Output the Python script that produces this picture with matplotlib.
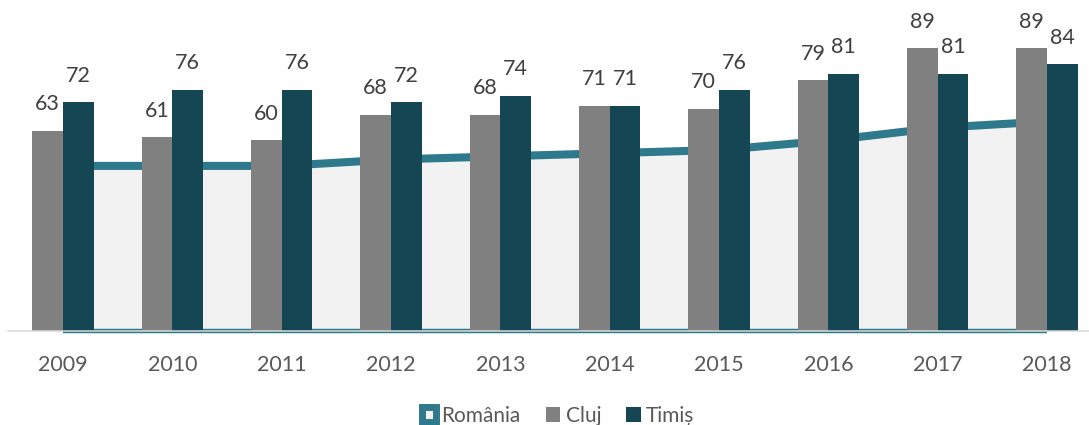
import numpy as np
import matplotlib
matplotlib.use("Agg")
import matplotlib.pyplot as plt
from matplotlib.patches import Patch

# date
years = ["2009", "2010", "2011", "2012", "2013", "2014", "2015", "2016", "2017", "2018"]
cluj = [63, 61, 60, 68, 68, 71, 70, 79, 89, 89]
timis = [72, 76, 76, 72, 74, 71, 76, 81, 81, 84]
romania = [52, 52, 52, 54, 55, 56, 57, 60, 64, 66]

c_ro = "#2E7A8C"
c_fill = "#F2F2F2"
c_cluj = "#808080"
c_timis = "#144753"

plt.rcParams["font.family"] = ["Lato", "DejaVu Sans"]

fig = plt.figure(figsize=(10.89, 4.25), dpi=100)
ax = fig.add_axes([8.3 / 1089, 94 / 425, 1093.4 / 1089, 331 / 425])

x = np.arange(len(years))
w = 0.28

# Romania - zona + contur
ax.fill_between(x, 0, romania, color=c_fill, lw=0, zorder=1)
ax.plot(x, romania, color=c_ro, lw=5.8, solid_capstyle="butt", zorder=1.5)
ax.plot(x, np.zeros(len(x)), color=c_ro, lw=3.2, solid_capstyle="butt",
        zorder=1.5, clip_on=False)

b1 = ax.bar(x - w / 2, cluj, w, color=c_cluj, zorder=2)
b2 = ax.bar(x + w / 2, timis, w, color=c_timis, zorder=2)

for bars, vals in [(b1, cluj), (b2, timis)]:
    for r, v in zip(bars, vals):
        ax.annotate(str(v), (r.get_x() + r.get_width() / 2, v),
                    xytext=(0, 12), textcoords="offset points",
                    ha="center", va="bottom", fontsize=15.5, color="#404040")

ax.set_xlim(-0.5, 9.5)
ax.set_ylim(0, 104.25)
ax.set_xticks(x)
ax.set_xticklabels(years, fontsize=15.5, color="#595959")
ax.tick_params(axis="x", length=0, pad=17)
ax.set_yticks([])
for s in ["top", "right", "left"]:
    ax.spines[s].set_visible(False)
ax.spines["bottom"].set_color("#D9D9D9")
ax.spines["bottom"].set_linewidth(1.1)
ax.spines["bottom"].set_zorder(3)
ax.set_facecolor("none")

handles = [
    Patch(facecolor=c_fill, edgecolor=c_ro, lw=5, label="România"),
    Patch(facecolor=c_cluj, label="Cluj"),
    Patch(facecolor=c_timis, label="Timiș"),
]
fig.legend(handles=handles, loc="center", bbox_to_anchor=(558 / 1089, 1 - 416 / 425),
           ncol=3, frameon=False, fontsize=15, handlelength=0.7, handleheight=0.7,
           handletextpad=0.25, columnspacing=1.2, labelcolor="#595959")

fig.savefig("out.png", dpi=100)
